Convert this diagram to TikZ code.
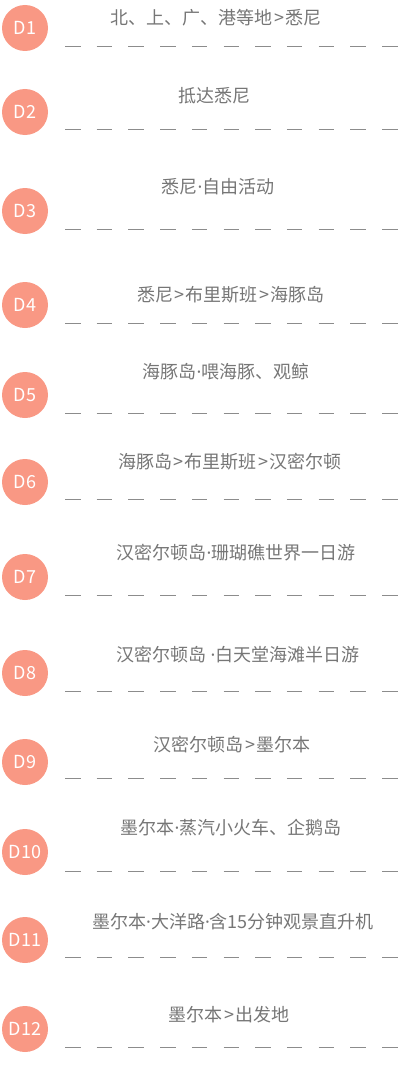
\documentclass[tikz,border=0pt]{standalone}
\usepackage{fontspec}
\setmainfont{Noto Sans CJK SC}
\newfontfamily\latinfont{Noto Sans}
\usepackage{tikz}
\tikzset{x=1pt,y=-1pt}
\definecolor{daypink}{RGB}{249,152,132}
\definecolor{plangray}{RGB}{118,118,118}
\definecolor{rulegray}{RGB}{140,140,140}
\newcommand{\middot}{{\latinfont ·}}
\newcommand{\togt}{\kern1.5pt>\kern1.5pt}
\tikzset{
  day/.style={circle, fill=daypink, minimum size=46pt, inner sep=0pt,
    text=white, font=\fontsize{18}{18}\selectfont},
  plan/.style={anchor=base, inner sep=0pt, text=plangray,
    font=\fontsize{18}{20}\selectfont},
  dayrule/.style={draw=rulegray, line width=1pt, dash pattern=on 15.5pt off 16.2pt}
}

\begin{document}
\begin{tikzpicture}
\useasboundingbox (0,0) rectangle (400,1070);
    % day 1
    \node[day] (d1) at (25,28) {D1};
    \node[plan] (t1) at (216,24.5) {北、上、广、港等地\togt 悉尼};
    \draw[dayrule] (65,47) -- (400,47);
    % day 2
    \node[day] (d2) at (25,112) {D2};
    \node[plan] (t2) at (214,102.5) {抵达悉尼};
    \draw[dayrule] (65,130) -- (400,130);
    % day 3
    \node[day] (d3) at (25,211) {D3};
    \node[plan] (t3) at (218,193.5) {悉尼\middot 自由活动};
    \draw[dayrule] (65,229) -- (400,229);
    % day 4
    \node[day] (d4) at (25,305) {D4};
    \node[plan] (t4) at (231,301.5) {悉尼\togt 布里斯班\togt 海豚岛};
    \draw[dayrule] (65,323) -- (400,323);
    % day 5
    \node[day] (d5) at (25,395) {D5};
    \node[plan] (t5) at (226,378.5) {海豚岛\middot 喂海豚、观鲸};
    \draw[dayrule] (65,413) -- (400,413);
    % day 6
    \node[day] (d6) at (25,482) {D6};
    \node[plan] (t6) at (230,468.5) {海豚岛\togt 布里斯班\togt 汉密尔顿};
    \draw[dayrule] (65,499) -- (400,499);
    % day 7
    \node[day] (d7) at (25,577) {D7};
    \node[plan] (t7) at (236,559.5) {汉密尔顿岛\middot 珊瑚礁世界一日游};
    \draw[dayrule] (65,595) -- (400,595);
    % day 8
    \node[day] (d8) at (25,673) {D8};
    \node[plan] (t8) at (238,661.5) {汉密尔顿岛 \middot 白天堂海滩半日游};
    \draw[dayrule] (65,691) -- (400,691);
    % day 9
    \node[day] (d9) at (25,762) {D9};
    \node[plan] (t9) at (232,751.5) {汉密尔顿岛\togt 墨尔本};
    \draw[dayrule] (65,778) -- (400,778);
    % day 10
    \node[day] (d10) at (25,852) {D10};
    \node[plan] (t10) at (231,834.5) {墨尔本\middot 蒸汽小火车、企鹅岛};
    \draw[dayrule] (65,871) -- (400,871);
    % day 11
    \node[day] (d11) at (25,940) {D11};
    \node[plan] (t11) at (233,928.5) {墨尔本\middot 大洋路\middot 含15分钟观景直升机};
    \draw[dayrule] (65,957) -- (400,957);
    % day 12
    \node[day] (d12) at (25,1029) {D12};
    \node[plan] (t12) at (229,1021.5) {墨尔本\togt 出发地};
    \draw[dayrule] (65,1047) -- (400,1047);
\end{tikzpicture}
\end{document}
